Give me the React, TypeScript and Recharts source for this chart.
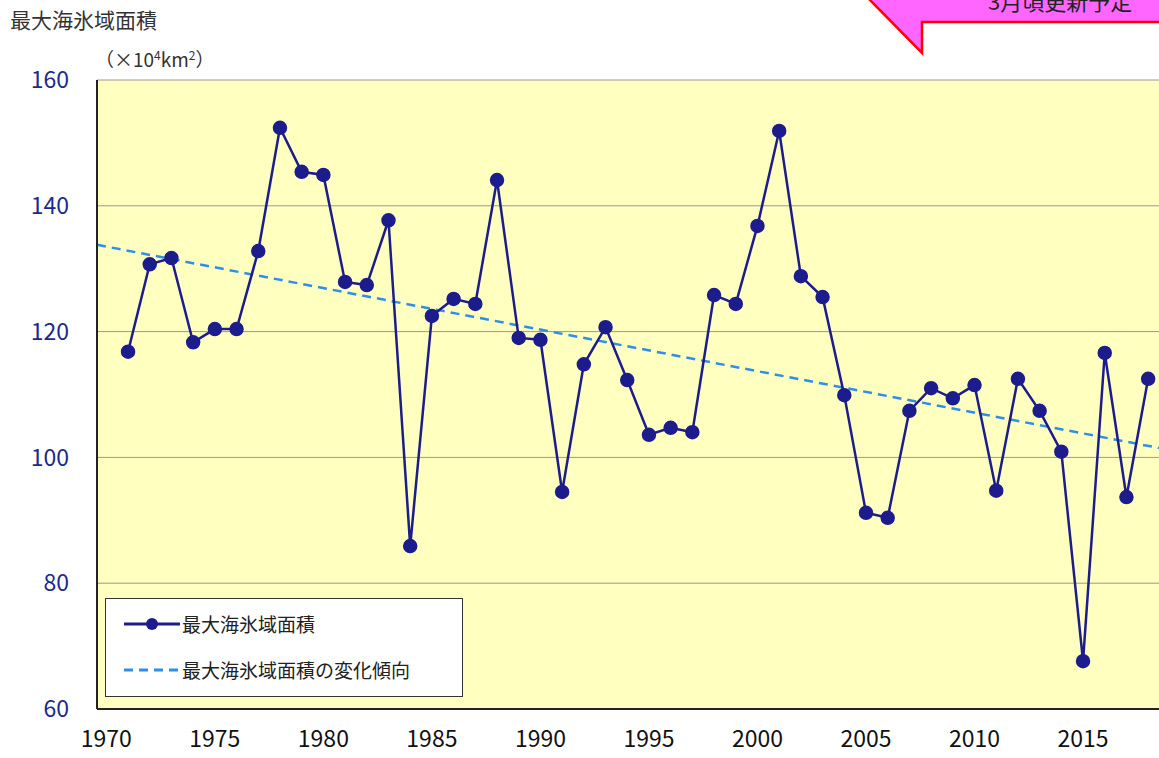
import { CartesianGrid, ComposedChart, Line, XAxis, YAxis } from 'recharts';

const years = [
  1971, 1972, 1973, 1974, 1975, 1976, 1977, 1978, 1979, 1980, 1981, 1982, 1983, 1984, 1985, 1986,
  1987, 1988, 1989, 1990, 1991, 1992, 1993, 1994, 1995, 1996, 1997, 1998, 1999, 2000, 2001, 2002,
  2003, 2004, 2005, 2006, 2007, 2008, 2009, 2010, 2011, 2012, 2013, 2014, 2015, 2016, 2017, 2018,
];
const area = [
  116.8, 130.7, 131.7, 118.3, 120.4, 120.4, 132.8, 152.4, 145.4, 144.9, 127.9, 127.4, 137.7, 85.9,
  122.5, 125.2, 124.4, 144.1, 119.0, 118.7, 94.5, 114.8, 120.7, 112.3, 103.6, 104.7, 104.0, 125.8,
  124.4, 136.8, 151.9, 128.8, 125.5, 109.9, 91.2, 90.4, 107.4, 111.0, 109.4, 111.5, 94.7, 112.5,
  107.4, 100.9, 67.6, 116.6, 93.7, 112.5,
];
const trendYears = [1969.57, 2018.5];
const trendValues = [133.8, 101.5];
const xTicks = [1970, 1975, 1980, 1985, 1990, 1995, 2000, 2005, 2010, 2015];
const yTicks = [60, 80, 100, 120, 140, 160];

const data = years.map((year, i) => ({ year, area: area[i] }));
const trend = trendYears.map((year, i) => ({ year, trend: trendValues[i] }));

const font = '"Noto Sans CJK JP", "Noto Sans", sans-serif';

function LegendBox() {
  return (
    <div
      style={{
        position: 'absolute',
        left: 105,
        top: 598,
        width: 358,
        height: 99,
        boxSizing: 'border-box',
        border: '1px solid #333',
        background: '#fff',
        padding: '2px 10px',
        fontFamily: font,
        fontSize: 19,
        color: '#222',
        lineHeight: '46px',
      }}
    >
      <div style={{ display: 'flex', alignItems: 'center' }}>
        <svg width="66" height="20">
          <line x1="8" y1="10" x2="64" y2="10" stroke="#1c1c8c" strokeWidth="3" />
          <circle cx="36" cy="10" r="6" fill="#1c1c8c" />
        </svg>
        最大海氷域面積
      </div>
      <div style={{ display: 'flex', alignItems: 'center' }}>
        <svg width="66" height="20">
          <line x1="8" y1="10" x2="64" y2="10" stroke="#2f8fe8" strokeWidth="3" strokeDasharray="9 6" />
        </svg>
        最大海氷域面積の変化傾向
      </div>
    </div>
  );
}

export default function App() {
  return (
    <div style={{ position: 'fixed', left: 0, top: 0, width: 1159, height: 758, background: '#fff', overflow: 'hidden' }}>
      <ComposedChart width={1159} height={758} margin={{ top: 80, right: 0, bottom: 0, left: 0 }} style={{ position: 'absolute', left: 0, top: 0 }}>
        <CartesianGrid fill="#ffffc0" stroke="#999" vertical={false} horizontalValues={yTicks} />
        <XAxis
          dataKey="year"
          type="number"
          domain={[1969.57, 2018.5]}
          ticks={xTicks}
          allowDataOverflow
          height={49}
          tick={{ fill: '#111', fontSize: 23, fontFamily: font }}
          tickLine={false}
          axisLine={{ stroke: '#222', strokeWidth: 2 }}
          tickMargin={16}
        />
        <YAxis
          domain={[60, 160]}
          ticks={yTicks}
          width={97}
          tick={{ fill: '#1c2a8c', fontSize: 23, fontFamily: font }}
          tickLine={false}
          axisLine={{ stroke: '#222', strokeWidth: 2 }}
          tickMargin={22}
        />
        <Line
          data={trend}
          dataKey="trend"
          stroke="#2f8fe8"
          strokeWidth={2.5}
          strokeDasharray="9 6"
          dot={false}
          isAnimationActive={false}
        />
        <Line
          data={data}
          dataKey="area"
          stroke="#1c1c8c"
          strokeWidth={2.5}
          dot={{ r: 6, fill: '#1c1c8c', stroke: '#1c1c8c', clipDot: false }}
          isAnimationActive={false}
        />
      </ComposedChart>
      <LegendBox />
      <div style={{ position: 'absolute', left: 10, top: 4, fontFamily: font, fontSize: 21, color: '#333' }}>最大海氷域面積</div>
      <div style={{ position: 'absolute', left: 95, top: 45, fontFamily: font, fontSize: 19, color: '#333' }}>
        （×10<sup style={{ fontSize: 12 }}>4</sup>km<sup style={{ fontSize: 12 }}>2</sup>）
      </div>
      <svg style={{ position: 'absolute', left: 0, top: 0 }} width="1159" height="60">
        <polygon points="868,-2 1162,-2 1162,22 922,22 922,53" fill="#ff66ff" stroke="#ff0000" strokeWidth="2.5" />
        <text x="988" y="10" fontFamily="'Noto Sans CJK JP', serif" fontSize="22" fill="#222">3月頃更新予定</text>
      </svg>
    </div>
  );
}
